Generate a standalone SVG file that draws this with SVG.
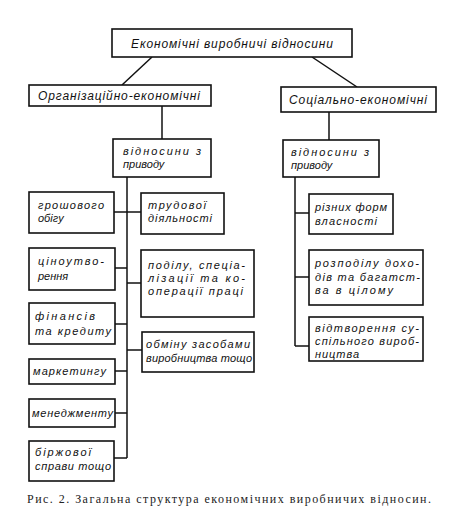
<svg xmlns="http://www.w3.org/2000/svg" width="457" height="512" viewBox="0 0 457 512">
<style>
.box{fill:#fff;stroke:#111;stroke-width:1.6}
.t{font-family:"Liberation Sans","DejaVu Sans",sans-serif;font-style:italic;font-size:11px;fill:#111}
.tb{font-size:12px}
.c{stroke:#111;stroke-width:1.5;fill:none}
.cap{font-family:"Liberation Serif","DejaVu Serif",serif;font-size:12px;fill:#222}
</style>
<rect width="457" height="512" fill="#fff"/>
<g id="connectors">
<line class="c" x1="152" y1="57" x2="122" y2="85"/>
<line class="c" x1="312" y1="57" x2="357" y2="87"/>
<line class="c" x1="162" y1="106" x2="162" y2="139"/>
<line class="c" x1="329" y1="112" x2="329" y2="140"/>
<line class="c" x1="127" y1="177" x2="127" y2="458"/>
<line class="c" x1="114" y1="212" x2="141" y2="212"/>
<line class="c" x1="115" y1="268" x2="127" y2="268"/>
<line class="c" x1="127" y1="283" x2="141" y2="283"/>
<line class="c" x1="115" y1="324" x2="127" y2="324"/>
<line class="c" x1="127" y1="350" x2="142" y2="350"/>
<line class="c" x1="115" y1="371" x2="127" y2="371"/>
<line class="c" x1="115" y1="413" x2="127" y2="413"/>
<line class="c" x1="114" y1="458" x2="127" y2="458"/>
<line class="c" x1="295" y1="177" x2="295" y2="346"/>
<line class="c" x1="295" y1="213" x2="309" y2="213"/>
<line class="c" x1="295" y1="277" x2="309" y2="277"/>
<line class="c" x1="295" y1="346" x2="309" y2="346"/>
</g>
<g id="root">
<rect class="box" x="112" y="29" width="240" height="28"/>
<text class="t tb" x="131" y="48" textLength="202" lengthAdjust="spacing">Економічні виробничі відносини</text>
</g>
<g id="org">
<rect class="box" x="29" y="85" width="182" height="21"/>
<text class="t tb" x="38" y="100" textLength="162" lengthAdjust="spacing">Організаційно-економічні</text>
</g>
<g id="soc">
<rect class="box" x="281" y="87" width="155" height="25"/>
<text class="t tb" x="289" y="104" textLength="138" lengthAdjust="spacing">Соціально-економічні</text>
</g>
<g id="rel-left">
<rect class="box" x="113" y="139" width="98" height="38"/>
<text class="t" x="123" y="155" textLength="78" lengthAdjust="spacing">відносини з</text>
<text class="t" x="123" y="168">приводу</text>
</g>
<g id="rel-right">
<rect class="box" x="283" y="140" width="96" height="37"/>
<text class="t" x="291" y="156" textLength="78" lengthAdjust="spacing">відносини з</text>
<text class="t" x="291" y="169">приводу</text>
</g>
<g id="money">
<rect class="box" x="29" y="192" width="85" height="41"/>
<text class="t" x="38" y="209" textLength="66" lengthAdjust="spacing">грошового</text>
<text class="t" x="38" y="222">обігу</text>
</g>
<g id="labour">
<rect class="box" x="141" y="193" width="83" height="41"/>
<text class="t" x="148" y="209" textLength="58" lengthAdjust="spacing">трудової</text>
<text class="t" x="148" y="222" textLength="64" lengthAdjust="spacing">діяльності</text>
</g>
<g id="pricing">
<rect class="box" x="29" y="248" width="86" height="42"/>
<text class="t" x="38" y="265" textLength="66" lengthAdjust="spacing">ціноутво-</text>
<text class="t" x="38" y="280">рення</text>
</g>
<g id="division">
<rect class="box" x="141" y="250" width="113" height="67"/>
<text class="t" x="148" y="269" textLength="97" lengthAdjust="spacing">поділу, спеціа-</text>
<text class="t" x="148" y="282" textLength="97" lengthAdjust="spacing">лізації  та ко-</text>
<text class="t" x="148" y="295" textLength="95" lengthAdjust="spacing">операції праці</text>
</g>
<g id="finance">
<rect class="box" x="29" y="303" width="86" height="41"/>
<text class="t" x="35" y="320" textLength="60" lengthAdjust="spacing">фінансів</text>
<text class="t" x="35" y="335" textLength="76" lengthAdjust="spacing">та кредиту</text>
</g>
<g id="exchange">
<rect class="box" x="142" y="332" width="112" height="40"/>
<text class="t" x="146" y="348" textLength="104" lengthAdjust="spacing">обміну засобами</text>
<text class="t" x="146" y="362" textLength="106" lengthAdjust="spacing">виробництва тощо</text>
</g>
<g id="marketing">
<rect class="box" x="29" y="359" width="86" height="25"/>
<text class="t" x="33" y="375" textLength="73" lengthAdjust="spacing">маркетингу</text>
</g>
<g id="management">
<rect class="box" x="29" y="399" width="86" height="28"/>
<text class="t" x="32" y="417" textLength="81" lengthAdjust="spacing">менеджменту</text>
</g>
<g id="exchange-biz">
<rect class="box" x="29" y="441" width="85" height="40"/>
<text class="t" x="35" y="456" textLength="56" lengthAdjust="spacing">біржової</text>
<text class="t" x="35" y="470" textLength="76" lengthAdjust="spacing">справи тощо</text>
</g>
<g id="ownership">
<rect class="box" x="309" y="194" width="84" height="40"/>
<text class="t" x="315" y="211" textLength="72" lengthAdjust="spacing">різних форм</text>
<text class="t" x="315" y="225" textLength="62" lengthAdjust="spacing">власності</text>
</g>
<g id="distribution">
<rect class="box" x="309" y="250" width="114" height="55"/>
<text class="t" x="315" y="267" textLength="104" lengthAdjust="spacing">розподілу дохо-</text>
<text class="t" x="315" y="281" textLength="105" lengthAdjust="spacing">дів та багатст-</text>
<text class="t" x="315" y="294" textLength="78" lengthAdjust="spacing">ва в цілому</text>
</g>
<g id="reproduction">
<rect class="box" x="309" y="317" width="114" height="44"/>
<text class="t" x="315" y="332" textLength="104" lengthAdjust="spacing">відтворення су-</text>
<text class="t" x="315" y="345" textLength="104" lengthAdjust="spacing">спільного вироб-</text>
<text class="t" x="315" y="358" textLength="44" lengthAdjust="spacing">ництва</text>
</g>
<text class="cap" x="27" y="503" textLength="404" lengthAdjust="spacing">Рис. 2. Загальна структура економічних виробничих відносин.</text>
</svg>
